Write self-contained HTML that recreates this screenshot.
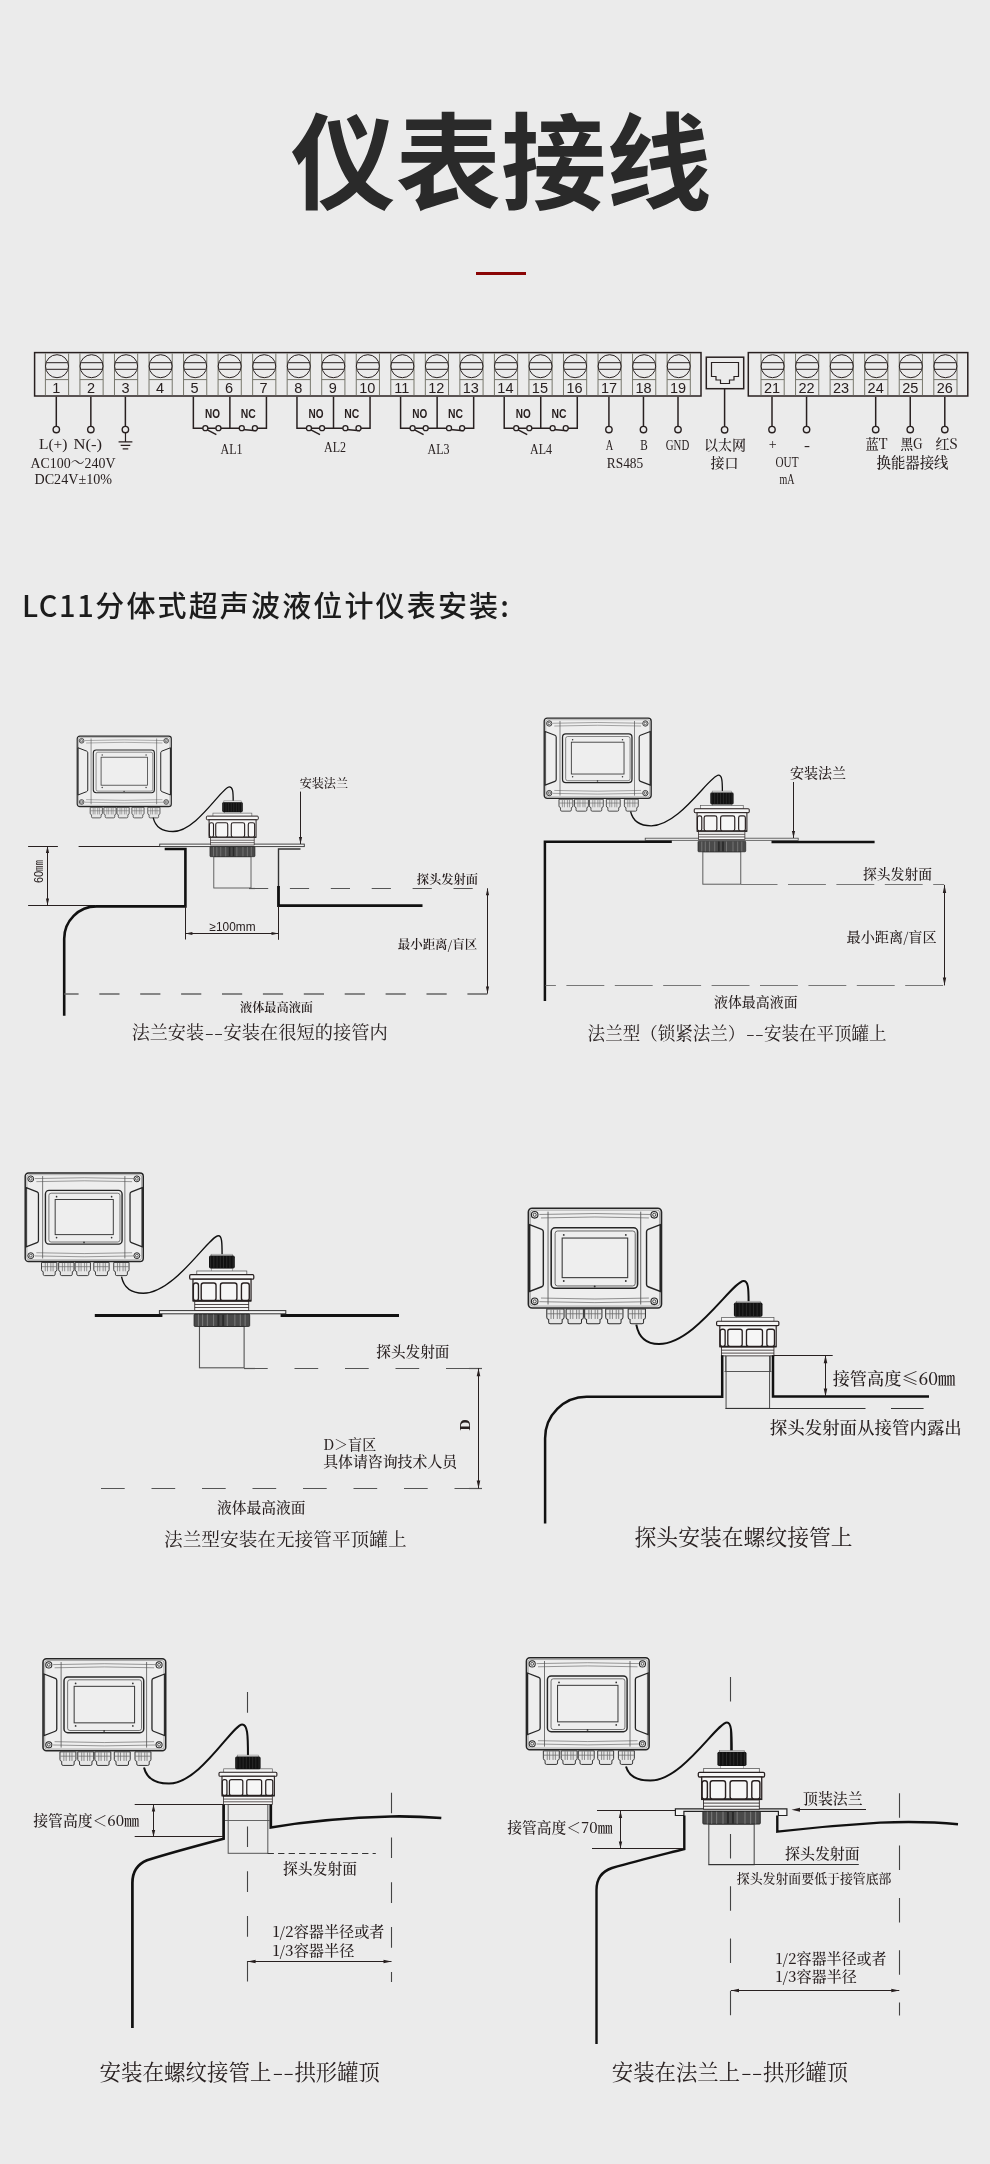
<!DOCTYPE html>
<html lang="zh-CN"><head><meta charset="utf-8"><title>仪表接线</title>
<style>
html,body{margin:0;padding:0;background:#ebebeb}
body{width:990px;height:2164px;overflow:hidden}
svg{display:block;will-change:transform;opacity:.9999}
.cs{font-family:"Noto Serif CJK SC","Liberation Serif",serif}
.se{font-family:"Liberation Serif","Noto Serif CJK SC",serif}
.sa{font-family:"Liberation Sans","Noto Sans CJK SC",sans-serif}
.nc{font-family:"Noto Sans CJK SC","Liberation Sans",sans-serif}
</style></head><body>
<svg width="990" height="2164" viewBox="0 0 990 2164" fill="#282020">
<rect width="990" height="2164" fill="#ebebeb"/>
<defs>
<g id="dev" fill="none" stroke="#262626">
<rect x="0" y="0" width="847" height="635" rx="24" stroke-width="10.5" fill="#eeeeee"/>
<rect x="12" y="12" width="823" height="611" rx="16" stroke-width="3.5" stroke="#666"/>
<path d="M125 22V613M715 22V613" stroke-width="5" stroke="#444"/>
<path d="M70 40Q423 28 777 40M80 62Q423 50 767 62M70 595Q423 607 777 595M80 572Q423 584 767 572" stroke-width="4" stroke="#555"/>
<path d="M7 105L85 135Q95 139 95 150V485Q95 496 85 500L7 530Z M840 105L762 135Q752 139 752 150V485Q752 496 762 500L840 530Z" stroke-width="9"/>
<rect x="145" y="125" width="550" height="385" rx="26" stroke-width="10"/>
<rect x="170" y="145" width="510" height="350" rx="16" stroke-width="5" stroke="#444"/>
<rect x="215" y="190" width="417" height="252" stroke-width="7" stroke="#3a3a3a"/>
<g fill="#333" stroke="none"><circle cx="225" cy="170" r="6"/><circle cx="620" cy="170" r="6"/><circle cx="225" cy="463" r="6"/><circle cx="620" cy="463" r="6"/><circle cx="422" cy="498" r="6"/></g>
<circle cx="40" cy="42" r="21" stroke-width="7"/><circle cx="40" cy="42" r="10" stroke-width="5"/>
<circle cx="801" cy="42" r="21" stroke-width="7"/><circle cx="801" cy="42" r="10" stroke-width="5"/>
<circle cx="40" cy="593" r="21" stroke-width="7"/><circle cx="40" cy="593" r="10" stroke-width="5"/>
<circle cx="801" cy="593" r="21" stroke-width="7"/><circle cx="801" cy="593" r="10" stroke-width="5"/>
<path d="M117 642h110v52q0 12-12 14v18q0 10-10 10h-66q-10 0-10-10v-18q-12-2-12-14z" stroke-width="6.5" fill="#e6e6e6" stroke="#2e2e2e"/>
<path d="M144 645v60M200 645v60M160 645v60M184 645v60M120 672h104" stroke-width="5" stroke="#6a6a6a"/>
<path d="M240 642h110v52q0 12-12 14v18q0 10-10 10h-66q-10 0-10-10v-18q-12-2-12-14z" stroke-width="6.5" fill="#e6e6e6" stroke="#2e2e2e"/>
<path d="M267 645v60M323 645v60M283 645v60M307 645v60M243 672h104" stroke-width="5" stroke="#6a6a6a"/>
<path d="M358 642h110v52q0 12-12 14v18q0 10-10 10h-66q-10 0-10-10v-18q-12-2-12-14z" stroke-width="6.5" fill="#e6e6e6" stroke="#2e2e2e"/>
<path d="M385 645v60M441 645v60M401 645v60M425 645v60M361 672h104" stroke-width="5" stroke="#6a6a6a"/>
<path d="M492 642h110v52q0 12-12 14v18q0 10-10 10h-66q-10 0-10-10v-18q-12-2-12-14z" stroke-width="6.5" fill="#e6e6e6" stroke="#2e2e2e"/>
<path d="M519 645v60M575 645v60M535 645v60M559 645v60M495 672h104" stroke-width="5" stroke="#6a6a6a"/>
<path d="M635 642h110v52q0 12-12 14v18q0 10-10 10h-66q-10 0-10-10v-18q-12-2-12-14z" stroke-width="6.5" fill="#e6e6e6" stroke="#2e2e2e"/>
<path d="M662 645v60M718 645v60M678 645v60M702 645v60M638 672h104" stroke-width="5" stroke="#6a6a6a"/>
</g>
<g id="head" stroke="#282020">
<rect x="-234" y="-260" width="467" height="33" rx="9" fill="#f6f6f6" stroke-width="9"/>
<rect x="-210" y="-227" width="423" height="158" fill="#f6f6f6" stroke-width="9"/>
<path d="M-210 -77h423v12h-423z" fill="#222" stroke="none"/>
<rect x="-207" y="-200" width="37" height="128" rx="16" fill="#f6f6f6" stroke-width="10"/>
<rect x="-150" y="-200" width="108" height="128" rx="16" fill="#f6f6f6" stroke-width="10"/>
<rect x="-10" y="-200" width="120" height="128" rx="16" fill="#f6f6f6" stroke-width="10"/>
<rect x="143" y="-200" width="57" height="128" rx="16" fill="#f6f6f6" stroke-width="10"/>
<rect x="-197" y="-65" width="393" height="65" fill="#f6f6f6" stroke-width="6"/>
<path d="M-197 -43h393M-197 -21h393" stroke-width="6" fill="none"/>
</g>
<g id="nut">
<rect x="-202" y="15" width="405" height="90" rx="7" fill="#4a4a4a" stroke="#222" stroke-width="6"/>
<path d="M-170 18v84M-140 18v84M-105 18v84M-60 18v84M40 18v84M95 18v84M135 18v84M170 18v84" stroke="#777" stroke-width="8" fill="none"/>
<path d="M-25 18v84M10 18v84" stroke="#2a2a2a" stroke-width="14" fill="none"/>
</g>
</defs>
<text x="501" y="200.8" font-size="105" class="sa" text-anchor="middle" textLength="421" lengthAdjust="spacingAndGlyphs" font-weight="700" fill="#2a2a2a">仪表接线</text>
<rect x="476" y="272" width="50" height="3" fill="#8a0505"/>
<rect x="34.6" y="352.6" width="666.4" height="43.4" fill="none" stroke="#282020" stroke-width="1.5"/>
<path d="M45.4 353.4V395.2M68.6 353.4V395.2M45.4 379.6H68.6" stroke="#77776c" stroke-width="1" fill="none"/>
<circle cx="57" cy="366.2" r="11.5" fill="none" stroke="#282020" stroke-width="1"/>
<path d="M46.6 362.7H67.4M46.6 369.3H67.4" stroke="#282020" stroke-width="1" fill="none"/>
<text x="56.4" y="393.42" font-size="14.5" class="sa" text-anchor="middle">1</text>
<path d="M79.94 353.4V395.2M103.14 353.4V395.2M79.94 379.6H103.14" stroke="#77776c" stroke-width="1" fill="none"/>
<circle cx="91.54" cy="366.2" r="11.5" fill="none" stroke="#282020" stroke-width="1"/>
<path d="M81.14 362.7H101.94M81.14 369.3H101.94" stroke="#282020" stroke-width="1" fill="none"/>
<text x="90.94" y="393.42" font-size="14.5" class="sa" text-anchor="middle">2</text>
<path d="M114.48 353.4V395.2M137.68 353.4V395.2M114.48 379.6H137.68" stroke="#77776c" stroke-width="1" fill="none"/>
<circle cx="126.08" cy="366.2" r="11.5" fill="none" stroke="#282020" stroke-width="1"/>
<path d="M115.68 362.7H136.48M115.68 369.3H136.48" stroke="#282020" stroke-width="1" fill="none"/>
<text x="125.48" y="393.42" font-size="14.5" class="sa" text-anchor="middle">3</text>
<path d="M149.02 353.4V395.2M172.22 353.4V395.2M149.02 379.6H172.22" stroke="#77776c" stroke-width="1" fill="none"/>
<circle cx="160.62" cy="366.2" r="11.5" fill="none" stroke="#282020" stroke-width="1"/>
<path d="M150.22 362.7H171.02M150.22 369.3H171.02" stroke="#282020" stroke-width="1" fill="none"/>
<text x="160.02" y="393.42" font-size="14.5" class="sa" text-anchor="middle">4</text>
<path d="M183.56 353.4V395.2M206.76 353.4V395.2M183.56 379.6H206.76" stroke="#77776c" stroke-width="1" fill="none"/>
<circle cx="195.16" cy="366.2" r="11.5" fill="none" stroke="#282020" stroke-width="1"/>
<path d="M184.76 362.7H205.56M184.76 369.3H205.56" stroke="#282020" stroke-width="1" fill="none"/>
<text x="194.56" y="393.42" font-size="14.5" class="sa" text-anchor="middle">5</text>
<path d="M218.09 353.4V395.2M241.29 353.4V395.2M218.09 379.6H241.29" stroke="#77776c" stroke-width="1" fill="none"/>
<circle cx="229.69" cy="366.2" r="11.5" fill="none" stroke="#282020" stroke-width="1"/>
<path d="M219.29 362.7H240.09M219.29 369.3H240.09" stroke="#282020" stroke-width="1" fill="none"/>
<text x="229.09" y="393.42" font-size="14.5" class="sa" text-anchor="middle">6</text>
<path d="M252.63 353.4V395.2M275.83 353.4V395.2M252.63 379.6H275.83" stroke="#77776c" stroke-width="1" fill="none"/>
<circle cx="264.23" cy="366.2" r="11.5" fill="none" stroke="#282020" stroke-width="1"/>
<path d="M253.83 362.7H274.63M253.83 369.3H274.63" stroke="#282020" stroke-width="1" fill="none"/>
<text x="263.63" y="393.42" font-size="14.5" class="sa" text-anchor="middle">7</text>
<path d="M287.17 353.4V395.2M310.37 353.4V395.2M287.17 379.6H310.37" stroke="#77776c" stroke-width="1" fill="none"/>
<circle cx="298.77" cy="366.2" r="11.5" fill="none" stroke="#282020" stroke-width="1"/>
<path d="M288.37 362.7H309.17M288.37 369.3H309.17" stroke="#282020" stroke-width="1" fill="none"/>
<text x="298.17" y="393.42" font-size="14.5" class="sa" text-anchor="middle">8</text>
<path d="M321.71 353.4V395.2M344.91 353.4V395.2M321.71 379.6H344.91" stroke="#77776c" stroke-width="1" fill="none"/>
<circle cx="333.31" cy="366.2" r="11.5" fill="none" stroke="#282020" stroke-width="1"/>
<path d="M322.91 362.7H343.71M322.91 369.3H343.71" stroke="#282020" stroke-width="1" fill="none"/>
<text x="332.71" y="393.42" font-size="14.5" class="sa" text-anchor="middle">9</text>
<path d="M356.25 353.4V395.2M379.45 353.4V395.2M356.25 379.6H379.45" stroke="#77776c" stroke-width="1" fill="none"/>
<circle cx="367.85" cy="366.2" r="11.5" fill="none" stroke="#282020" stroke-width="1"/>
<path d="M357.45 362.7H378.25M357.45 369.3H378.25" stroke="#282020" stroke-width="1" fill="none"/>
<text x="367.25" y="393.42" font-size="14.5" class="sa" text-anchor="middle">10</text>
<path d="M390.79 353.4V395.2M413.99 353.4V395.2M390.79 379.6H413.99" stroke="#77776c" stroke-width="1" fill="none"/>
<circle cx="402.39" cy="366.2" r="11.5" fill="none" stroke="#282020" stroke-width="1"/>
<path d="M391.99 362.7H412.79M391.99 369.3H412.79" stroke="#282020" stroke-width="1" fill="none"/>
<text x="401.79" y="393.42" font-size="14.5" class="sa" text-anchor="middle">11</text>
<path d="M425.33 353.4V395.2M448.53 353.4V395.2M425.33 379.6H448.53" stroke="#77776c" stroke-width="1" fill="none"/>
<circle cx="436.93" cy="366.2" r="11.5" fill="none" stroke="#282020" stroke-width="1"/>
<path d="M426.53 362.7H447.33M426.53 369.3H447.33" stroke="#282020" stroke-width="1" fill="none"/>
<text x="436.33" y="393.42" font-size="14.5" class="sa" text-anchor="middle">12</text>
<path d="M459.87 353.4V395.2M483.07 353.4V395.2M459.87 379.6H483.07" stroke="#77776c" stroke-width="1" fill="none"/>
<circle cx="471.47" cy="366.2" r="11.5" fill="none" stroke="#282020" stroke-width="1"/>
<path d="M461.07 362.7H481.87M461.07 369.3H481.87" stroke="#282020" stroke-width="1" fill="none"/>
<text x="470.87" y="393.42" font-size="14.5" class="sa" text-anchor="middle">13</text>
<path d="M494.41 353.4V395.2M517.61 353.4V395.2M494.41 379.6H517.61" stroke="#77776c" stroke-width="1" fill="none"/>
<circle cx="506.01" cy="366.2" r="11.5" fill="none" stroke="#282020" stroke-width="1"/>
<path d="M495.61 362.7H516.41M495.61 369.3H516.41" stroke="#282020" stroke-width="1" fill="none"/>
<text x="505.41" y="393.42" font-size="14.5" class="sa" text-anchor="middle">14</text>
<path d="M528.94 353.4V395.2M552.14 353.4V395.2M528.94 379.6H552.14" stroke="#77776c" stroke-width="1" fill="none"/>
<circle cx="540.54" cy="366.2" r="11.5" fill="none" stroke="#282020" stroke-width="1"/>
<path d="M530.14 362.7H550.94M530.14 369.3H550.94" stroke="#282020" stroke-width="1" fill="none"/>
<text x="539.94" y="393.42" font-size="14.5" class="sa" text-anchor="middle">15</text>
<path d="M563.48 353.4V395.2M586.68 353.4V395.2M563.48 379.6H586.68" stroke="#77776c" stroke-width="1" fill="none"/>
<circle cx="575.08" cy="366.2" r="11.5" fill="none" stroke="#282020" stroke-width="1"/>
<path d="M564.68 362.7H585.48M564.68 369.3H585.48" stroke="#282020" stroke-width="1" fill="none"/>
<text x="574.48" y="393.42" font-size="14.5" class="sa" text-anchor="middle">16</text>
<path d="M598.02 353.4V395.2M621.22 353.4V395.2M598.02 379.6H621.22" stroke="#77776c" stroke-width="1" fill="none"/>
<circle cx="609.62" cy="366.2" r="11.5" fill="none" stroke="#282020" stroke-width="1"/>
<path d="M599.22 362.7H620.02M599.22 369.3H620.02" stroke="#282020" stroke-width="1" fill="none"/>
<text x="609.02" y="393.42" font-size="14.5" class="sa" text-anchor="middle">17</text>
<path d="M632.56 353.4V395.2M655.76 353.4V395.2M632.56 379.6H655.76" stroke="#77776c" stroke-width="1" fill="none"/>
<circle cx="644.16" cy="366.2" r="11.5" fill="none" stroke="#282020" stroke-width="1"/>
<path d="M633.76 362.7H654.56M633.76 369.3H654.56" stroke="#282020" stroke-width="1" fill="none"/>
<text x="643.56" y="393.42" font-size="14.5" class="sa" text-anchor="middle">18</text>
<path d="M667.1 353.4V395.2M690.3 353.4V395.2M667.1 379.6H690.3" stroke="#77776c" stroke-width="1" fill="none"/>
<circle cx="678.7" cy="366.2" r="11.5" fill="none" stroke="#282020" stroke-width="1"/>
<path d="M668.3 362.7H689.1M668.3 369.3H689.1" stroke="#282020" stroke-width="1" fill="none"/>
<text x="678.1" y="393.42" font-size="14.5" class="sa" text-anchor="middle">19</text>
<rect x="748.3" y="352.6" width="219.5" height="43.4" fill="none" stroke="#282020" stroke-width="1.5"/>
<path d="M761 353.4V395.2M784.2 353.4V395.2M761 379.6H784.2" stroke="#77776c" stroke-width="1" fill="none"/>
<circle cx="772.6" cy="366.2" r="11.5" fill="none" stroke="#282020" stroke-width="1"/>
<path d="M762.2 362.7H783M762.2 369.3H783" stroke="#282020" stroke-width="1" fill="none"/>
<text x="772" y="393.42" font-size="14.5" class="sa" text-anchor="middle">21</text>
<path d="M795.56 353.4V395.2M818.76 353.4V395.2M795.56 379.6H818.76" stroke="#77776c" stroke-width="1" fill="none"/>
<circle cx="807.16" cy="366.2" r="11.5" fill="none" stroke="#282020" stroke-width="1"/>
<path d="M796.76 362.7H817.56M796.76 369.3H817.56" stroke="#282020" stroke-width="1" fill="none"/>
<text x="806.56" y="393.42" font-size="14.5" class="sa" text-anchor="middle">22</text>
<path d="M830.12 353.4V395.2M853.32 353.4V395.2M830.12 379.6H853.32" stroke="#77776c" stroke-width="1" fill="none"/>
<circle cx="841.72" cy="366.2" r="11.5" fill="none" stroke="#282020" stroke-width="1"/>
<path d="M831.32 362.7H852.12M831.32 369.3H852.12" stroke="#282020" stroke-width="1" fill="none"/>
<text x="841.12" y="393.42" font-size="14.5" class="sa" text-anchor="middle">23</text>
<path d="M864.68 353.4V395.2M887.88 353.4V395.2M864.68 379.6H887.88" stroke="#77776c" stroke-width="1" fill="none"/>
<circle cx="876.28" cy="366.2" r="11.5" fill="none" stroke="#282020" stroke-width="1"/>
<path d="M865.88 362.7H886.68M865.88 369.3H886.68" stroke="#282020" stroke-width="1" fill="none"/>
<text x="875.68" y="393.42" font-size="14.5" class="sa" text-anchor="middle">24</text>
<path d="M899.24 353.4V395.2M922.44 353.4V395.2M899.24 379.6H922.44" stroke="#77776c" stroke-width="1" fill="none"/>
<circle cx="910.84" cy="366.2" r="11.5" fill="none" stroke="#282020" stroke-width="1"/>
<path d="M900.44 362.7H921.24M900.44 369.3H921.24" stroke="#282020" stroke-width="1" fill="none"/>
<text x="910.24" y="393.42" font-size="14.5" class="sa" text-anchor="middle">25</text>
<path d="M933.8 353.4V395.2M957 353.4V395.2M933.8 379.6H957" stroke="#77776c" stroke-width="1" fill="none"/>
<circle cx="945.4" cy="366.2" r="11.5" fill="none" stroke="#282020" stroke-width="1"/>
<path d="M935 362.7H955.8M935 369.3H955.8" stroke="#282020" stroke-width="1" fill="none"/>
<text x="944.8" y="393.42" font-size="14.5" class="sa" text-anchor="middle">26</text>
<rect x="706.3" y="357.2" width="37.4" height="31.5" fill="none" stroke="#282020" stroke-width="1.5"/>
<path d="M711.5 362.5H738.5V376.5H734V380H729.5V383.5H720.5V380H716V376.5H711.5Z" fill="none" stroke="#282020" stroke-width="1.2"/>
<line x1="56.3" y1="396.7" x2="56.3" y2="426.4" stroke="#282020" stroke-width="1.5"/>
<circle cx="56.3" cy="429.6" r="3.2" fill="#ebebeb" stroke="#282020" stroke-width="1.4"/>
<line x1="90.84" y1="396.7" x2="90.84" y2="426.4" stroke="#282020" stroke-width="1.5"/>
<circle cx="90.84" cy="429.6" r="3.2" fill="#ebebeb" stroke="#282020" stroke-width="1.4"/>
<line x1="125.38" y1="396.7" x2="125.38" y2="426.4" stroke="#282020" stroke-width="1.5"/>
<circle cx="125.38" cy="429.6" r="3.2" fill="#ebebeb" stroke="#282020" stroke-width="1.4"/>
<line x1="608.92" y1="396.7" x2="608.92" y2="426.4" stroke="#282020" stroke-width="1.5"/>
<circle cx="608.92" cy="429.6" r="3.2" fill="#ebebeb" stroke="#282020" stroke-width="1.4"/>
<line x1="643.46" y1="396.7" x2="643.46" y2="426.4" stroke="#282020" stroke-width="1.5"/>
<circle cx="643.46" cy="429.6" r="3.2" fill="#ebebeb" stroke="#282020" stroke-width="1.4"/>
<line x1="678" y1="396.7" x2="678" y2="426.4" stroke="#282020" stroke-width="1.5"/>
<circle cx="678" cy="429.6" r="3.2" fill="#ebebeb" stroke="#282020" stroke-width="1.4"/>
<line x1="772" y1="396.7" x2="772" y2="426.4" stroke="#282020" stroke-width="1.5"/>
<circle cx="772" cy="429.6" r="3.2" fill="#ebebeb" stroke="#282020" stroke-width="1.4"/>
<line x1="806.56" y1="396.7" x2="806.56" y2="426.4" stroke="#282020" stroke-width="1.5"/>
<circle cx="806.56" cy="429.6" r="3.2" fill="#ebebeb" stroke="#282020" stroke-width="1.4"/>
<line x1="875.68" y1="396.7" x2="875.68" y2="426.4" stroke="#282020" stroke-width="1.5"/>
<circle cx="875.68" cy="429.6" r="3.2" fill="#ebebeb" stroke="#282020" stroke-width="1.4"/>
<line x1="910.24" y1="396.7" x2="910.24" y2="426.4" stroke="#282020" stroke-width="1.5"/>
<circle cx="910.24" cy="429.6" r="3.2" fill="#ebebeb" stroke="#282020" stroke-width="1.4"/>
<line x1="944.8" y1="396.7" x2="944.8" y2="426.4" stroke="#282020" stroke-width="1.5"/>
<circle cx="944.8" cy="429.6" r="3.2" fill="#ebebeb" stroke="#282020" stroke-width="1.4"/>
<line x1="724.6" y1="388.7" x2="724.6" y2="426.5" stroke="#282020" stroke-width="1.5"/>
<circle cx="724.6" cy="429.8" r="3.2" fill="#ebebeb" stroke="#282020" stroke-width="1.4"/>
<path d="M193.36 396.7V428.2H202.96M229.89 396.7V428.2M207.96 428.2L215.96 428.2M220.96 428.2H239.29M244.29 428.2M257.03 428.2H266.43V396.7" fill="none" stroke="#282020" stroke-width="1.5"/>
<line x1="206.86" y1="429.7" x2="216.36" y2="434.7" stroke="#282020" stroke-width="1.5"/>
<line x1="242.89" y1="429.4" x2="256.39" y2="430.8" stroke="#282020" stroke-width="1.5"/>
<circle cx="205.36" cy="428.2" r="2.5" fill="#ebebeb" stroke="#282020" stroke-width="1.3"/>
<circle cx="218.46" cy="428.2" r="2.5" fill="#ebebeb" stroke="#282020" stroke-width="1.3"/>
<circle cx="241.79" cy="428.2" r="2.5" fill="#ebebeb" stroke="#282020" stroke-width="1.3"/>
<circle cx="254.89" cy="428.2" r="2.5" fill="#ebebeb" stroke="#282020" stroke-width="1.3"/>
<text x="212.43" y="417.5" font-size="12.5" class="sa" text-anchor="middle" textLength="15" lengthAdjust="spacingAndGlyphs" font-weight="700">NO</text>
<text x="248.16" y="417.5" font-size="12.5" class="sa" text-anchor="middle" textLength="15" lengthAdjust="spacingAndGlyphs" font-weight="700">NC</text>
<text x="231.6" y="453.58" font-size="15.5" class="se" text-anchor="middle" textLength="22" lengthAdjust="spacingAndGlyphs">AL1</text>
<path d="M296.97 396.7V428.2H306.57M333.51 396.7V428.2M311.57 428.2L319.57 428.2M324.57 428.2H342.91M347.91 428.2M360.65 428.2H370.05V396.7" fill="none" stroke="#282020" stroke-width="1.5"/>
<line x1="310.47" y1="429.7" x2="319.97" y2="434.7" stroke="#282020" stroke-width="1.5"/>
<line x1="346.51" y1="429.4" x2="360.01" y2="430.8" stroke="#282020" stroke-width="1.5"/>
<circle cx="308.97" cy="428.2" r="2.5" fill="#ebebeb" stroke="#282020" stroke-width="1.3"/>
<circle cx="322.07" cy="428.2" r="2.5" fill="#ebebeb" stroke="#282020" stroke-width="1.3"/>
<circle cx="345.41" cy="428.2" r="2.5" fill="#ebebeb" stroke="#282020" stroke-width="1.3"/>
<circle cx="358.51" cy="428.2" r="2.5" fill="#ebebeb" stroke="#282020" stroke-width="1.3"/>
<text x="316.04" y="417.5" font-size="12.5" class="sa" text-anchor="middle" textLength="15" lengthAdjust="spacingAndGlyphs" font-weight="700">NO</text>
<text x="351.78" y="417.5" font-size="12.5" class="sa" text-anchor="middle" textLength="15" lengthAdjust="spacingAndGlyphs" font-weight="700">NC</text>
<text x="335" y="452.08" font-size="15.5" class="se" text-anchor="middle" textLength="22" lengthAdjust="spacingAndGlyphs">AL2</text>
<path d="M400.59 396.7V428.2H410.19M437.13 396.7V428.2M415.19 428.2L423.19 428.2M428.19 428.2H446.53M451.53 428.2M464.27 428.2H473.67V396.7" fill="none" stroke="#282020" stroke-width="1.5"/>
<line x1="414.09" y1="429.7" x2="423.59" y2="434.7" stroke="#282020" stroke-width="1.5"/>
<line x1="450.13" y1="429.4" x2="463.63" y2="430.8" stroke="#282020" stroke-width="1.5"/>
<circle cx="412.59" cy="428.2" r="2.5" fill="#ebebeb" stroke="#282020" stroke-width="1.3"/>
<circle cx="425.69" cy="428.2" r="2.5" fill="#ebebeb" stroke="#282020" stroke-width="1.3"/>
<circle cx="449.03" cy="428.2" r="2.5" fill="#ebebeb" stroke="#282020" stroke-width="1.3"/>
<circle cx="462.13" cy="428.2" r="2.5" fill="#ebebeb" stroke="#282020" stroke-width="1.3"/>
<text x="419.66" y="417.5" font-size="12.5" class="sa" text-anchor="middle" textLength="15" lengthAdjust="spacingAndGlyphs" font-weight="700">NO</text>
<text x="455.4" y="417.5" font-size="12.5" class="sa" text-anchor="middle" textLength="15" lengthAdjust="spacingAndGlyphs" font-weight="700">NC</text>
<text x="438.5" y="453.58" font-size="15.5" class="se" text-anchor="middle" textLength="22" lengthAdjust="spacingAndGlyphs">AL3</text>
<path d="M504.21 396.7V428.2H513.81M540.74 396.7V428.2M518.81 428.2L526.81 428.2M531.81 428.2H550.14M555.14 428.2M567.88 428.2H577.28V396.7" fill="none" stroke="#282020" stroke-width="1.5"/>
<line x1="517.71" y1="429.7" x2="527.21" y2="434.7" stroke="#282020" stroke-width="1.5"/>
<line x1="553.74" y1="429.4" x2="567.24" y2="430.8" stroke="#282020" stroke-width="1.5"/>
<circle cx="516.21" cy="428.2" r="2.5" fill="#ebebeb" stroke="#282020" stroke-width="1.3"/>
<circle cx="529.31" cy="428.2" r="2.5" fill="#ebebeb" stroke="#282020" stroke-width="1.3"/>
<circle cx="552.64" cy="428.2" r="2.5" fill="#ebebeb" stroke="#282020" stroke-width="1.3"/>
<circle cx="565.74" cy="428.2" r="2.5" fill="#ebebeb" stroke="#282020" stroke-width="1.3"/>
<text x="523.27" y="417.5" font-size="12.5" class="sa" text-anchor="middle" textLength="15" lengthAdjust="spacingAndGlyphs" font-weight="700">NO</text>
<text x="559.01" y="417.5" font-size="12.5" class="sa" text-anchor="middle" textLength="15" lengthAdjust="spacingAndGlyphs" font-weight="700">NC</text>
<text x="541" y="453.58" font-size="15.5" class="se" text-anchor="middle" textLength="22" lengthAdjust="spacingAndGlyphs">AL4</text>
<path d="M125.48 432.8V441.6 M118.58 441.8h13.8 M120.68 445.4h9.6 M122.68 448.9h5.6" fill="none" stroke="#282020" stroke-width="1.2"/>
<text x="39" y="449.08" font-size="15.5" class="se" textLength="28.5" lengthAdjust="spacingAndGlyphs">L(+)</text>
<text x="73.5" y="449.08" font-size="15.5" class="se" textLength="28.5" lengthAdjust="spacingAndGlyphs">N(-)</text>
<text x="30.5" y="467.58" font-size="15.5" class="se" textLength="85" lengthAdjust="spacingAndGlyphs">AC100～240V</text>
<text x="34.5" y="483.58" font-size="15.5" class="se" textLength="77.5" lengthAdjust="spacingAndGlyphs">DC24V±10%</text>
<text x="609.5" y="449.58" font-size="15.5" class="se" text-anchor="middle" textLength="7.5" lengthAdjust="spacingAndGlyphs">A</text>
<text x="644" y="449.58" font-size="15.5" class="se" text-anchor="middle" textLength="7.5" lengthAdjust="spacingAndGlyphs">B</text>
<text x="677.5" y="449.58" font-size="15.5" class="se" text-anchor="middle" textLength="23.5" lengthAdjust="spacingAndGlyphs">GND</text>
<text x="625" y="467.58" font-size="15.5" class="se" text-anchor="middle" textLength="36.5" lengthAdjust="spacingAndGlyphs">RS485</text>
<text x="725" y="449.54" font-size="14" class="cs" text-anchor="middle" textLength="42" lengthAdjust="spacingAndGlyphs" font-weight="500">以太网</text>
<text x="724.5" y="468.04" font-size="14" class="cs" text-anchor="middle" textLength="28" lengthAdjust="spacingAndGlyphs" font-weight="500">接口</text>
<text x="772.6" y="449.04" font-size="14" class="se" text-anchor="middle">+</text>
<text x="807" y="449.54" font-size="14" class="se" text-anchor="middle" textLength="6" lengthAdjust="spacingAndGlyphs">-</text>
<text x="787" y="467.08" font-size="15.5" class="se" text-anchor="middle" textLength="23" lengthAdjust="spacingAndGlyphs">OUT</text>
<text x="787" y="483.58" font-size="15.5" class="se" text-anchor="middle" textLength="15" lengthAdjust="spacingAndGlyphs">mA</text>
<text x="876.5" y="449.04" font-size="14" class="cs" text-anchor="middle" textLength="22" lengthAdjust="spacingAndGlyphs" font-weight="500">蓝T</text>
<text x="911.5" y="449.04" font-size="14" class="cs" text-anchor="middle" textLength="22" lengthAdjust="spacingAndGlyphs" font-weight="500">黑G</text>
<text x="946.5" y="449.04" font-size="14" class="cs" text-anchor="middle" textLength="22" lengthAdjust="spacingAndGlyphs" font-weight="500">红S</text>
<text x="912.5" y="468.15" font-size="14.3" class="cs" text-anchor="middle" textLength="72" lengthAdjust="spacingAndGlyphs" font-weight="500">换能器接线</text>
<text x="22" y="617.44" font-size="29" class="nc" font-weight="500" fill="#1c1c1c" letter-spacing="2.15"><tspan letter-spacing="1.55">LC11</tspan>分体式超声波液位计仪表安装:</text>
<use href="#dev" transform="translate(77.2 736.1) scale(0.1111)"/>
<path d="M153.2 817.6C155.58 828.02 163.1 831.5 173 831.5C196.65 831.5 221.98 786.9 229.3 786.9C232.81 786.9 233.2 791.25 233.2 801.4" fill="none" stroke="#111" stroke-width="1.3"/>
<line x1="28.1" y1="846.5" x2="57.9" y2="846.5" stroke="#282020" stroke-width="1"/>
<line x1="78.6" y1="846.5" x2="160" y2="846.5" stroke="#282020" stroke-width="1"/>
<line x1="28.1" y1="905.5" x2="95" y2="905.5" stroke="#282020" stroke-width="1"/>
<line x1="47.5" y1="846" x2="47.5" y2="905.4" stroke="#282020" stroke-width="1"/>
<path d="M47.5 846l-1.6 7h3.2z M47.5 905.4l-1.6 -7h3.2z" fill="#282020"/>
<text x="38.2" y="875.92" font-size="12" class="sa" text-anchor="middle" textLength="23" lengthAdjust="spacingAndGlyphs" transform="rotate(-90 38.2 871.6)">60㎜</text>
<rect x="159.7" y="844.1" width="144.6" height="2.5" fill="#f4f4f4" stroke="#333" stroke-width="0.9"/>
<rect x="213.79" y="856.67" width="37.22" height="31.33" fill="none" stroke="#555" stroke-width="0.9"/>
<use href="#nut" transform="translate(232.4 845) scale(0.1111)"/>
<rect x="224.26" y="811.7" width="16.48" height="1.91" fill="#f4f4f4" stroke="#666" stroke-width="0.5"/>
<rect x="212.94" y="813.11" width="38.92" height="3.22" fill="#f4f4f4" stroke="#555" stroke-width="0.6"/>
<use href="#head" transform="translate(232.4 845) scale(0.1111)"/>
<rect x="223.85" y="800.9" width="17.3" height="2" fill="#f4f4f4" stroke="#666" stroke-width="0.5"/>
<rect x="222.2" y="802.2" width="20.6" height="10" rx="1.4" fill="#111"/>
<path d="M223.49 802.8V811.6M226.06 802.8V811.6M228.64 802.8V811.6M231.21 802.8V811.6M233.79 802.8V811.6M236.36 802.8V811.6M238.94 802.8V811.6M241.51 802.8V811.6" stroke="#3a3a3a" stroke-width="0.55" fill="none"/>
<path d="M64.2 1015.7V938.7A32.3 32.3 0 0 1 96.5 906.4H185.4V849H164.7" fill="none" stroke="#111" stroke-width="2.6"/>
<path d="M300.5 849H278.5V888" fill="none" stroke="#333" stroke-width="1.4"/>
<path d="M278.5 886V905.7H422.5" fill="none" stroke="#111" stroke-width="2.8"/>
<line x1="185.5" y1="906" x2="185.5" y2="939.5" stroke="#282020" stroke-width="1"/>
<line x1="278.5" y1="906" x2="278.5" y2="939.8" stroke="#282020" stroke-width="1"/>
<line x1="185.4" y1="933.5" x2="278.5" y2="933.5" stroke="#282020" stroke-width="1"/>
<path d="M185.4 933.5l7 -1.6v3.2z M278.5 933.5l-7 -1.6v3.2z" fill="#282020"/>
<text x="232.5" y="931.1" font-size="12.5" class="sa" text-anchor="middle" textLength="46" lengthAdjust="spacingAndGlyphs">≥100mm</text>
<line x1="249" y1="888.5" x2="473.5" y2="888.5" stroke="#555" stroke-width="1.2" stroke-dasharray="19.2 21.7"/>
<line x1="64.2" y1="994" x2="487.4" y2="994" stroke="#666" stroke-width="1.4" stroke-dasharray="20.2 20.7" stroke-dashoffset="5.8"/>
<line x1="487.5" y1="888.3" x2="487.5" y2="993.6" stroke="#282020" stroke-width="1"/>
<path d="M487.5 888.3l-1.6 7h3.2z M487.5 993.6l-1.6 -7h3.2z" fill="#282020"/>
<line x1="300.5" y1="791.6" x2="300.5" y2="844" stroke="#282020" stroke-width="1"/>
<path d="M300.5 844l-1.6 -7h3.2z" fill="#282020"/>
<text x="299.7" y="787.89" font-size="12.2" class="cs" textLength="48.3" lengthAdjust="spacingAndGlyphs" font-weight="500">安装法兰</text>
<text x="416.7" y="883.66" font-size="12.4" class="cs" textLength="61.3" lengthAdjust="spacingAndGlyphs" font-weight="600">探头发射面</text>
<text x="397.7" y="949.19" font-size="12.2" class="cs" textLength="79.6" lengthAdjust="spacingAndGlyphs" font-weight="600">最小距离/盲区</text>
<text x="240" y="1011.89" font-size="12.2" class="cs" textLength="73" lengthAdjust="spacingAndGlyphs" font-weight="600">液体最高液面</text>
<text x="131.7" y="1039.31" font-size="18.37" class="cs" textLength="72.38" lengthAdjust="spacingAndGlyphs" font-weight="400">法兰安装</text>
<text x="204.81" y="1039.31" font-size="18.37" class="cs" textLength="18.37" lengthAdjust="spacingAndGlyphs" font-weight="400">--</text>
<text x="223.55" y="1039.31" font-size="18.37" class="cs" textLength="164.23" lengthAdjust="spacingAndGlyphs" font-weight="400">安装在很短的接管内</text>
<use href="#dev" transform="translate(544.2 718.2) scale(0.1263)"/>
<path d="M630.6 811.5C633.07 822.22 640.9 825.8 651.2 825.8C679.47 825.8 709.75 775.2 718.5 775.2C722.01 775.2 722.4 780.36 722.4 792.4" fill="none" stroke="#111" stroke-width="1.3"/>
<rect x="645.2" y="838.2" width="153" height="2.1" fill="#f4f4f4" stroke="#444" stroke-width="0.8"/>
<rect x="702.84" y="851.77" width="37.92" height="32.43" fill="none" stroke="#555" stroke-width="0.95"/>
<use href="#nut" transform="translate(721.8 839.4) scale(0.1178)"/>
<rect x="712.63" y="804" width="18.64" height="2.1" fill="#f4f4f4" stroke="#666" stroke-width="0.5"/>
<rect x="700.35" y="805.6" width="42.9" height="3.42" fill="#f4f4f4" stroke="#555" stroke-width="0.64"/>
<use href="#head" transform="translate(721.8 839.4) scale(0.1178)"/>
<rect x="712.16" y="791.1" width="19.57" height="2" fill="#f4f4f4" stroke="#666" stroke-width="0.5"/>
<rect x="710.3" y="792.4" width="23.3" height="12.1" rx="1.48" fill="#111"/>
<path d="M711.76 793V803.9M714.67 793V803.9M717.58 793V803.9M720.49 793V803.9M723.41 793V803.9M726.32 793V803.9M729.23 793V803.9M732.14 793V803.9" stroke="#3a3a3a" stroke-width="0.58" fill="none"/>
<path d="M544.9 1001V841.8H671.8" fill="none" stroke="#111" stroke-width="2.5"/>
<line x1="771.5" y1="842" x2="874.6" y2="842" stroke="#111" stroke-width="2.4"/>
<line x1="741" y1="884.5" x2="944" y2="884.5" stroke="#777" stroke-width="1" stroke-dasharray="37.9 10.5" stroke-dashoffset="1.4"/>
<line x1="545.5" y1="985.5" x2="944" y2="985.5" stroke="#777" stroke-width="1" stroke-dasharray="37.9 10.5" stroke-dashoffset="27.5"/>
<line x1="944.5" y1="884.9" x2="944.5" y2="985.4" stroke="#282020" stroke-width="1"/>
<path d="M944.5 884.9l-1.7 8h3.4z M944.5 985.4l-1.7 -8h3.4z" fill="#282020"/>
<line x1="793.5" y1="782" x2="793.5" y2="838" stroke="#282020" stroke-width="1"/>
<path d="M793.5 838l-1.6 -7h3.2z" fill="#282020"/>
<text x="790" y="778.04" font-size="14" class="cs" textLength="56" lengthAdjust="spacingAndGlyphs" font-weight="500">安装法兰</text>
<text x="863" y="878.84" font-size="14" class="cs" textLength="69" lengthAdjust="spacingAndGlyphs" font-weight="500">探头发射面</text>
<text x="846.6" y="942.44" font-size="14" class="cs" textLength="90" lengthAdjust="spacingAndGlyphs" font-weight="500">最小距离/盲区</text>
<text x="714" y="1007.34" font-size="14" class="cs" textLength="83.6" lengthAdjust="spacingAndGlyphs" font-weight="500">液体最高液面</text>
<text x="587.6" y="1039.75" font-size="17.65" class="cs" textLength="157.79" lengthAdjust="spacingAndGlyphs" font-weight="400">法兰型（锁紧法兰）</text>
<text x="746.1" y="1039.75" font-size="17.65" class="cs" textLength="17.65" lengthAdjust="spacingAndGlyphs" font-weight="400">--</text>
<text x="764.1" y="1039.75" font-size="17.65" class="cs" textLength="122.49" lengthAdjust="spacingAndGlyphs" font-weight="400">安装在平顶罐上</text>
<use href="#dev" transform="translate(25.2 1173) scale(0.1394)"/>
<path d="M121.5 1276.7C124.12 1289.15 132.4 1293.3 143.3 1293.3C174.88 1293.3 208.72 1235.8 218.5 1235.8C221.74 1235.8 222.1 1241.71 222.1 1255.5" fill="none" stroke="#111" stroke-width="1.4"/>
<line x1="94.8" y1="1315.5" x2="162.4" y2="1315.5" stroke="#111" stroke-width="3"/>
<line x1="280.6" y1="1315.5" x2="399" y2="1315.5" stroke="#111" stroke-width="3"/>
<rect x="159.4" y="1310.6" width="126.4" height="3.2" fill="#f4f4f4" stroke="#333" stroke-width="1"/>
<rect x="199.48" y="1326.42" width="44.63" height="41.38" fill="none" stroke="#555" stroke-width="1.11"/>
<use href="#nut" transform="translate(221.8 1312) scale(0.1373)"/>
<rect x="211.58" y="1268" width="20.64" height="3.49" fill="#f4f4f4" stroke="#666" stroke-width="0.5"/>
<rect x="196.79" y="1270.99" width="50.03" height="3.98" fill="#f4f4f4" stroke="#555" stroke-width="0.74"/>
<use href="#head" transform="translate(221.8 1310.4) scale(0.1373)"/>
<rect x="211.06" y="1254.2" width="21.67" height="2" fill="#f4f4f4" stroke="#666" stroke-width="0.5"/>
<rect x="209" y="1255.5" width="25.8" height="13" rx="1.73" fill="#111"/>
<path d="M210.61 1256.1V1267.9M213.84 1256.1V1267.9M217.06 1256.1V1267.9M220.29 1256.1V1267.9M223.51 1256.1V1267.9M226.74 1256.1V1267.9M229.96 1256.1V1267.9M233.19 1256.1V1267.9" stroke="#3a3a3a" stroke-width="0.68" fill="none"/>
<line x1="244" y1="1368.5" x2="469" y2="1368.5" stroke="#555" stroke-width="1.2" stroke-dasharray="23.7 26.8"/>
<line x1="469" y1="1368.5" x2="482" y2="1368.5" stroke="#555" stroke-width="1.2"/>
<line x1="469" y1="1488.5" x2="482" y2="1488.5" stroke="#555" stroke-width="1.2"/>
<line x1="101" y1="1488.5" x2="482" y2="1488.5" stroke="#555" stroke-width="1.2" stroke-dasharray="23.7 26.8"/>
<line x1="478.5" y1="1368.2" x2="478.5" y2="1488.4" stroke="#282020" stroke-width="1"/>
<path d="M478.5 1368.2l-1.8 8h3.6z M478.5 1488.4l-1.8 -8h3.6z" fill="#282020"/>
<text x="464.6" y="1430.58" font-size="15.5" class="se" text-anchor="middle" font-weight="700" transform="rotate(-90 464.6 1425)">D</text>
<text x="376.3" y="1357.26" font-size="14.6" class="cs" textLength="73.2" lengthAdjust="spacingAndGlyphs" font-weight="500">探头发射面</text>
<text x="323.2" y="1449.66" font-size="14.6" class="cs" textLength="53" lengthAdjust="spacingAndGlyphs" font-weight="500">D＞盲区</text>
<text x="323.2" y="1466.96" font-size="14.9" class="cs" textLength="134" lengthAdjust="spacingAndGlyphs" font-weight="500">具体请咨询技术人员</text>
<text x="217" y="1512.89" font-size="14.7" class="cs" textLength="88.6" lengthAdjust="spacingAndGlyphs" font-weight="500">液体最高液面</text>
<text x="164" y="1545.6" font-size="18.6" class="cs" textLength="242.6" lengthAdjust="spacingAndGlyphs">法兰型安装在无接管平顶罐上</text>
<use href="#dev" transform="translate(528.4 1208.2) scale(0.1571)"/>
<path d="M636.3 1324.6C639.02 1339.15 647.65 1344 659 1344C694.53 1344 732.6 1281 743.6 1281C748.1 1281 748.6 1287.48 748.6 1302.6" fill="none" stroke="#111" stroke-width="2"/>
<rect x="726.07" y="1355.3" width="43.47" height="53.1" fill="none" stroke="#555" stroke-width="1.08"/>
<rect x="736.76" y="1316.2" width="22.88" height="1.93" fill="#f4f4f4" stroke="#666" stroke-width="0.5"/>
<rect x="721.65" y="1317.63" width="52.3" height="3.87" fill="#f4f4f4" stroke="#555" stroke-width="0.72"/>
<use href="#head" transform="translate(747.8 1355.9) scale(0.1333)"/>
<rect x="736.19" y="1301.2" width="24.02" height="2" fill="#f4f4f4" stroke="#666" stroke-width="0.5"/>
<rect x="733.9" y="1302.5" width="28.6" height="14.2" rx="1.68" fill="#111"/>
<path d="M735.69 1303.1V1316.1M739.26 1303.1V1316.1M742.84 1303.1V1316.1M746.41 1303.1V1316.1M749.99 1303.1V1316.1M753.56 1303.1V1316.1M757.14 1303.1V1316.1M760.71 1303.1V1316.1" stroke="#3a3a3a" stroke-width="0.66" fill="none"/>
<path d="M545.1 1523.5V1438.2A41.5 41.5 0 0 1 586.6 1396.7H722.2V1355.3" fill="none" stroke="#111" stroke-width="2.5"/>
<path d="M773 1355.3V1396.6H929" fill="none" stroke="#111" stroke-width="2.5"/>
<line x1="724.5" y1="1371.5" x2="771.5" y2="1371.5" stroke="#444" stroke-width="0.9"/>
<line x1="725.5" y1="1355.5" x2="725.5" y2="1371" stroke="#555" stroke-width="0.8"/>
<line x1="770.5" y1="1355.5" x2="770.5" y2="1371" stroke="#555" stroke-width="0.8"/>
<line x1="772.7" y1="1355.5" x2="832.7" y2="1355.5" stroke="#282020" stroke-width="1"/>
<line x1="825.5" y1="1355.3" x2="825.5" y2="1396.4" stroke="#282020" stroke-width="1"/>
<path d="M825.5 1355.3l-1.8 8h3.6z M825.5 1396.4l-1.8 -8h3.6z" fill="#282020"/>
<line x1="725.5" y1="1408.5" x2="865.5" y2="1408.5" stroke="#333" stroke-width="1.2"/>
<line x1="891" y1="1408.5" x2="923.6" y2="1408.5" stroke="#333" stroke-width="1.2"/>
<text x="832.7" y="1384.5" font-size="17.5" class="cs" textLength="122.6" lengthAdjust="spacingAndGlyphs" font-weight="500">接管高度≤60㎜</text>
<text x="769.8" y="1434.28" font-size="17.45" class="cs" textLength="192" lengthAdjust="spacingAndGlyphs" font-weight="500">探头发射面从接管内露出</text>
<text x="634.5" y="1545.15" font-size="21.8" class="cs" textLength="218.2" lengthAdjust="spacingAndGlyphs">探头安装在螺纹接管上</text>
<use href="#dev" transform="translate(43 1658.8) scale(0.1449)"/>
<line x1="247.5" y1="1692.1" x2="247.5" y2="1982" stroke="#444" stroke-width="1.1" stroke-dasharray="20.6 24.2"/>
<line x1="391.5" y1="1792.7" x2="391.5" y2="1982" stroke="#444" stroke-width="1.1" stroke-dasharray="20.6 24.2"/>
<path d="M144 1767.4C147 1779.55 156.5 1783.6 169 1783.6C199.74 1783.6 232.68 1724.4 242.2 1724.4C247.42 1724.4 248 1734 248 1756.4" fill="none" stroke="#111" stroke-width="2"/>
<rect x="228.18" y="1804.4" width="39.64" height="48.9" fill="none" stroke="#555" stroke-width="1"/>
<rect x="237.74" y="1768.7" width="20.32" height="0.64" fill="#f4f4f4" stroke="#666" stroke-width="0.5"/>
<rect x="223.7" y="1768.84" width="48.6" height="3.59" fill="#f4f4f4" stroke="#555" stroke-width="0.67"/>
<use href="#head" transform="translate(248 1804.4) scale(0.1239)"/>
<rect x="237.23" y="1755.1" width="21.34" height="2" fill="#f4f4f4" stroke="#666" stroke-width="0.5"/>
<rect x="235.2" y="1756.4" width="25.4" height="12.8" rx="1.56" fill="#111"/>
<path d="M236.79 1757V1768.6M239.96 1757V1768.6M243.14 1757V1768.6M246.31 1757V1768.6M249.49 1757V1768.6M252.66 1757V1768.6M255.84 1757V1768.6M259.01 1757V1768.6" stroke="#3a3a3a" stroke-width="0.61" fill="none"/>
<path d="M132.4 2028V1883C132.4 1871 138 1864 147 1860.3C170 1853 200 1845 223.6 1838.8V1804.4" fill="none" stroke="#111" stroke-width="2.7"/>
<path d="M270.8 1804.4V1827.5C300 1822.5 340 1817.8 391 1816.5C410 1816.2 425 1816.8 441.3 1818" fill="none" stroke="#111" stroke-width="2.7"/>
<line x1="134.7" y1="1804.5" x2="223" y2="1804.5" stroke="#282020" stroke-width="1"/>
<line x1="134.7" y1="1836.5" x2="223" y2="1836.5" stroke="#282020" stroke-width="1"/>
<line x1="153.5" y1="1804.4" x2="153.5" y2="1837" stroke="#282020" stroke-width="1"/>
<path d="M153.5 1804.4l-1.7 7h3.4z M153.5 1837l-1.7 -7h3.4z" fill="#282020"/>
<line x1="267.6" y1="1853.5" x2="375.8" y2="1853.5" stroke="#333" stroke-width="1.2" stroke-dasharray="6.3 4.2"/>
<line x1="225" y1="1820.5" x2="270" y2="1820.5" stroke="#555" stroke-width="0.9"/>
<line x1="247.6" y1="1961.5" x2="391.5" y2="1961.5" stroke="#282020" stroke-width="1"/>
<path d="M247.6 1961.5l8 -1.7v3.4z M391.5 1961.5l-8 -1.7v3.4z" fill="#282020"/>
<text x="33.3" y="1826.47" font-size="15.2" class="cs" textLength="105.7" lengthAdjust="spacingAndGlyphs" font-weight="500">接管高度＜60㎜</text>
<text x="283" y="1874.33" font-size="14.8" class="cs" textLength="74" lengthAdjust="spacingAndGlyphs" font-weight="500">探头发射面</text>
<text x="272.4" y="1937.22" font-size="14.5" class="cs" textLength="112" lengthAdjust="spacingAndGlyphs" font-weight="500">1/2容器半径或者</text>
<text x="272.4" y="1956.22" font-size="14.5" class="cs" textLength="82" lengthAdjust="spacingAndGlyphs" font-weight="500">1/3容器半径</text>
<text x="99.6" y="2079.8" font-size="21.66" class="cs" textLength="171.98" lengthAdjust="spacingAndGlyphs" font-weight="400">安装在螺纹接管上</text>
<text x="272.45" y="2079.8" font-size="21.66" class="cs" textLength="21.66" lengthAdjust="spacingAndGlyphs" font-weight="400">--</text>
<text x="294.54" y="2079.8" font-size="21.66" class="cs" textLength="85.34" lengthAdjust="spacingAndGlyphs" font-weight="400">拱形罐顶</text>
<use href="#dev" transform="translate(526.4 1657.8) scale(0.1449)"/>
<line x1="730.5" y1="1677" x2="730.5" y2="2015.5" stroke="#444" stroke-width="1.1" stroke-dasharray="24.5 27.8"/>
<line x1="899.5" y1="1793.3" x2="899.5" y2="2015.5" stroke="#444" stroke-width="1.1" stroke-dasharray="24.5 27.8"/>
<path d="M626 1766.4C628.92 1777.05 638.15 1780.6 650.3 1780.6C682.51 1780.6 717.03 1722.4 727 1722.4C731.32 1722.4 731.8 1731.28 731.8 1752" fill="none" stroke="#111" stroke-width="2"/>
<path d="M675.4 1808.8H786.9V1815.5H778.4V1811.4H683.9V1815.5H675.4Z" fill="#f4f4f4" stroke="#222" stroke-width="1.2"/>
<rect x="708.8" y="1824.1" width="45.4" height="40.6" fill="none" stroke="#555" stroke-width="1.15"/>
<use href="#nut" transform="translate(731.5 1809.2) scale(0.1419)"/>
<rect x="720.31" y="1765.5" width="23.28" height="3.48" fill="#f4f4f4" stroke="#666" stroke-width="0.5"/>
<rect x="703.67" y="1768.48" width="55.66" height="4.11" fill="#f4f4f4" stroke="#555" stroke-width="0.77"/>
<use href="#head" transform="translate(731.5 1809.2) scale(0.1419)"/>
<rect x="719.73" y="1750.5" width="24.44" height="2" fill="#f4f4f4" stroke="#666" stroke-width="0.5"/>
<rect x="717.4" y="1751.8" width="29.1" height="14.2" rx="1.79" fill="#111"/>
<path d="M719.22 1752.4V1765.4M722.86 1752.4V1765.4M726.49 1752.4V1765.4M730.13 1752.4V1765.4M733.77 1752.4V1765.4M737.41 1752.4V1765.4M741.04 1752.4V1765.4M744.68 1752.4V1765.4" stroke="#3a3a3a" stroke-width="0.7" fill="none"/>
<path d="M596.5 2044V1890C596.5 1878 603 1871 612 1868C640 1860 665 1854 684.3 1849V1815.5" fill="none" stroke="#111" stroke-width="2.4"/>
<path d="M777.3 1815.5V1831.6C800 1829 840 1825 880 1822.6C912 1821.4 935 1822 958 1824.2" fill="none" stroke="#111" stroke-width="2.4"/>
<line x1="597" y1="1810.5" x2="675" y2="1810.5" stroke="#282020" stroke-width="1"/>
<line x1="592" y1="1848.5" x2="683" y2="1848.5" stroke="#282020" stroke-width="1"/>
<line x1="620.5" y1="1811" x2="620.5" y2="1848.5" stroke="#282020" stroke-width="1"/>
<path d="M620.5 1811l-1.7 7h3.4z M620.5 1848.5l-1.7 -7h3.4z" fill="#282020"/>
<line x1="708.7" y1="1864.5" x2="858.8" y2="1864.5" stroke="#333" stroke-width="1.1"/>
<line x1="799" y1="1809.5" x2="866" y2="1809.5" stroke="#282020" stroke-width="1"/>
<path d="M791.5 1809.8l8.5 -2v4z" fill="#282020"/>
<line x1="731" y1="1990.5" x2="899.3" y2="1990.5" stroke="#282020" stroke-width="1"/>
<path d="M731 1990.5l8 -1.7v3.4z M899.3 1990.5l-8 -1.7v3.4z" fill="#282020"/>
<text x="803" y="1804.4" font-size="15" class="cs" textLength="59.7" lengthAdjust="spacingAndGlyphs" font-weight="500">顶装法兰</text>
<text x="785" y="1858.7" font-size="15" class="cs" textLength="74.8" lengthAdjust="spacingAndGlyphs" font-weight="500">探头发射面</text>
<text x="736.8" y="1882.94" font-size="12.9" class="cs" textLength="154.7" lengthAdjust="spacingAndGlyphs" font-weight="500">探头发射面要低于接管底部</text>
<text x="507.3" y="1833.07" font-size="15.2" class="cs" textLength="105.2" lengthAdjust="spacingAndGlyphs" font-weight="500">接管高度＜70㎜</text>
<text x="775.4" y="1963.72" font-size="14.5" class="cs" textLength="111" lengthAdjust="spacingAndGlyphs" font-weight="500">1/2容器半径或者</text>
<text x="775.4" y="1982.22" font-size="14.5" class="cs" textLength="81.5" lengthAdjust="spacingAndGlyphs" font-weight="500">1/3容器半径</text>
<text x="611.8" y="2079.78" font-size="21.6" class="cs" textLength="128.3" lengthAdjust="spacingAndGlyphs" font-weight="400">安装在法兰上</text>
<text x="740.97" y="2079.78" font-size="21.6" class="cs" textLength="21.6" lengthAdjust="spacingAndGlyphs" font-weight="400">--</text>
<text x="763" y="2079.78" font-size="21.6" class="cs" textLength="85.1" lengthAdjust="spacingAndGlyphs" font-weight="400">拱形罐顶</text>
</svg></body></html>
